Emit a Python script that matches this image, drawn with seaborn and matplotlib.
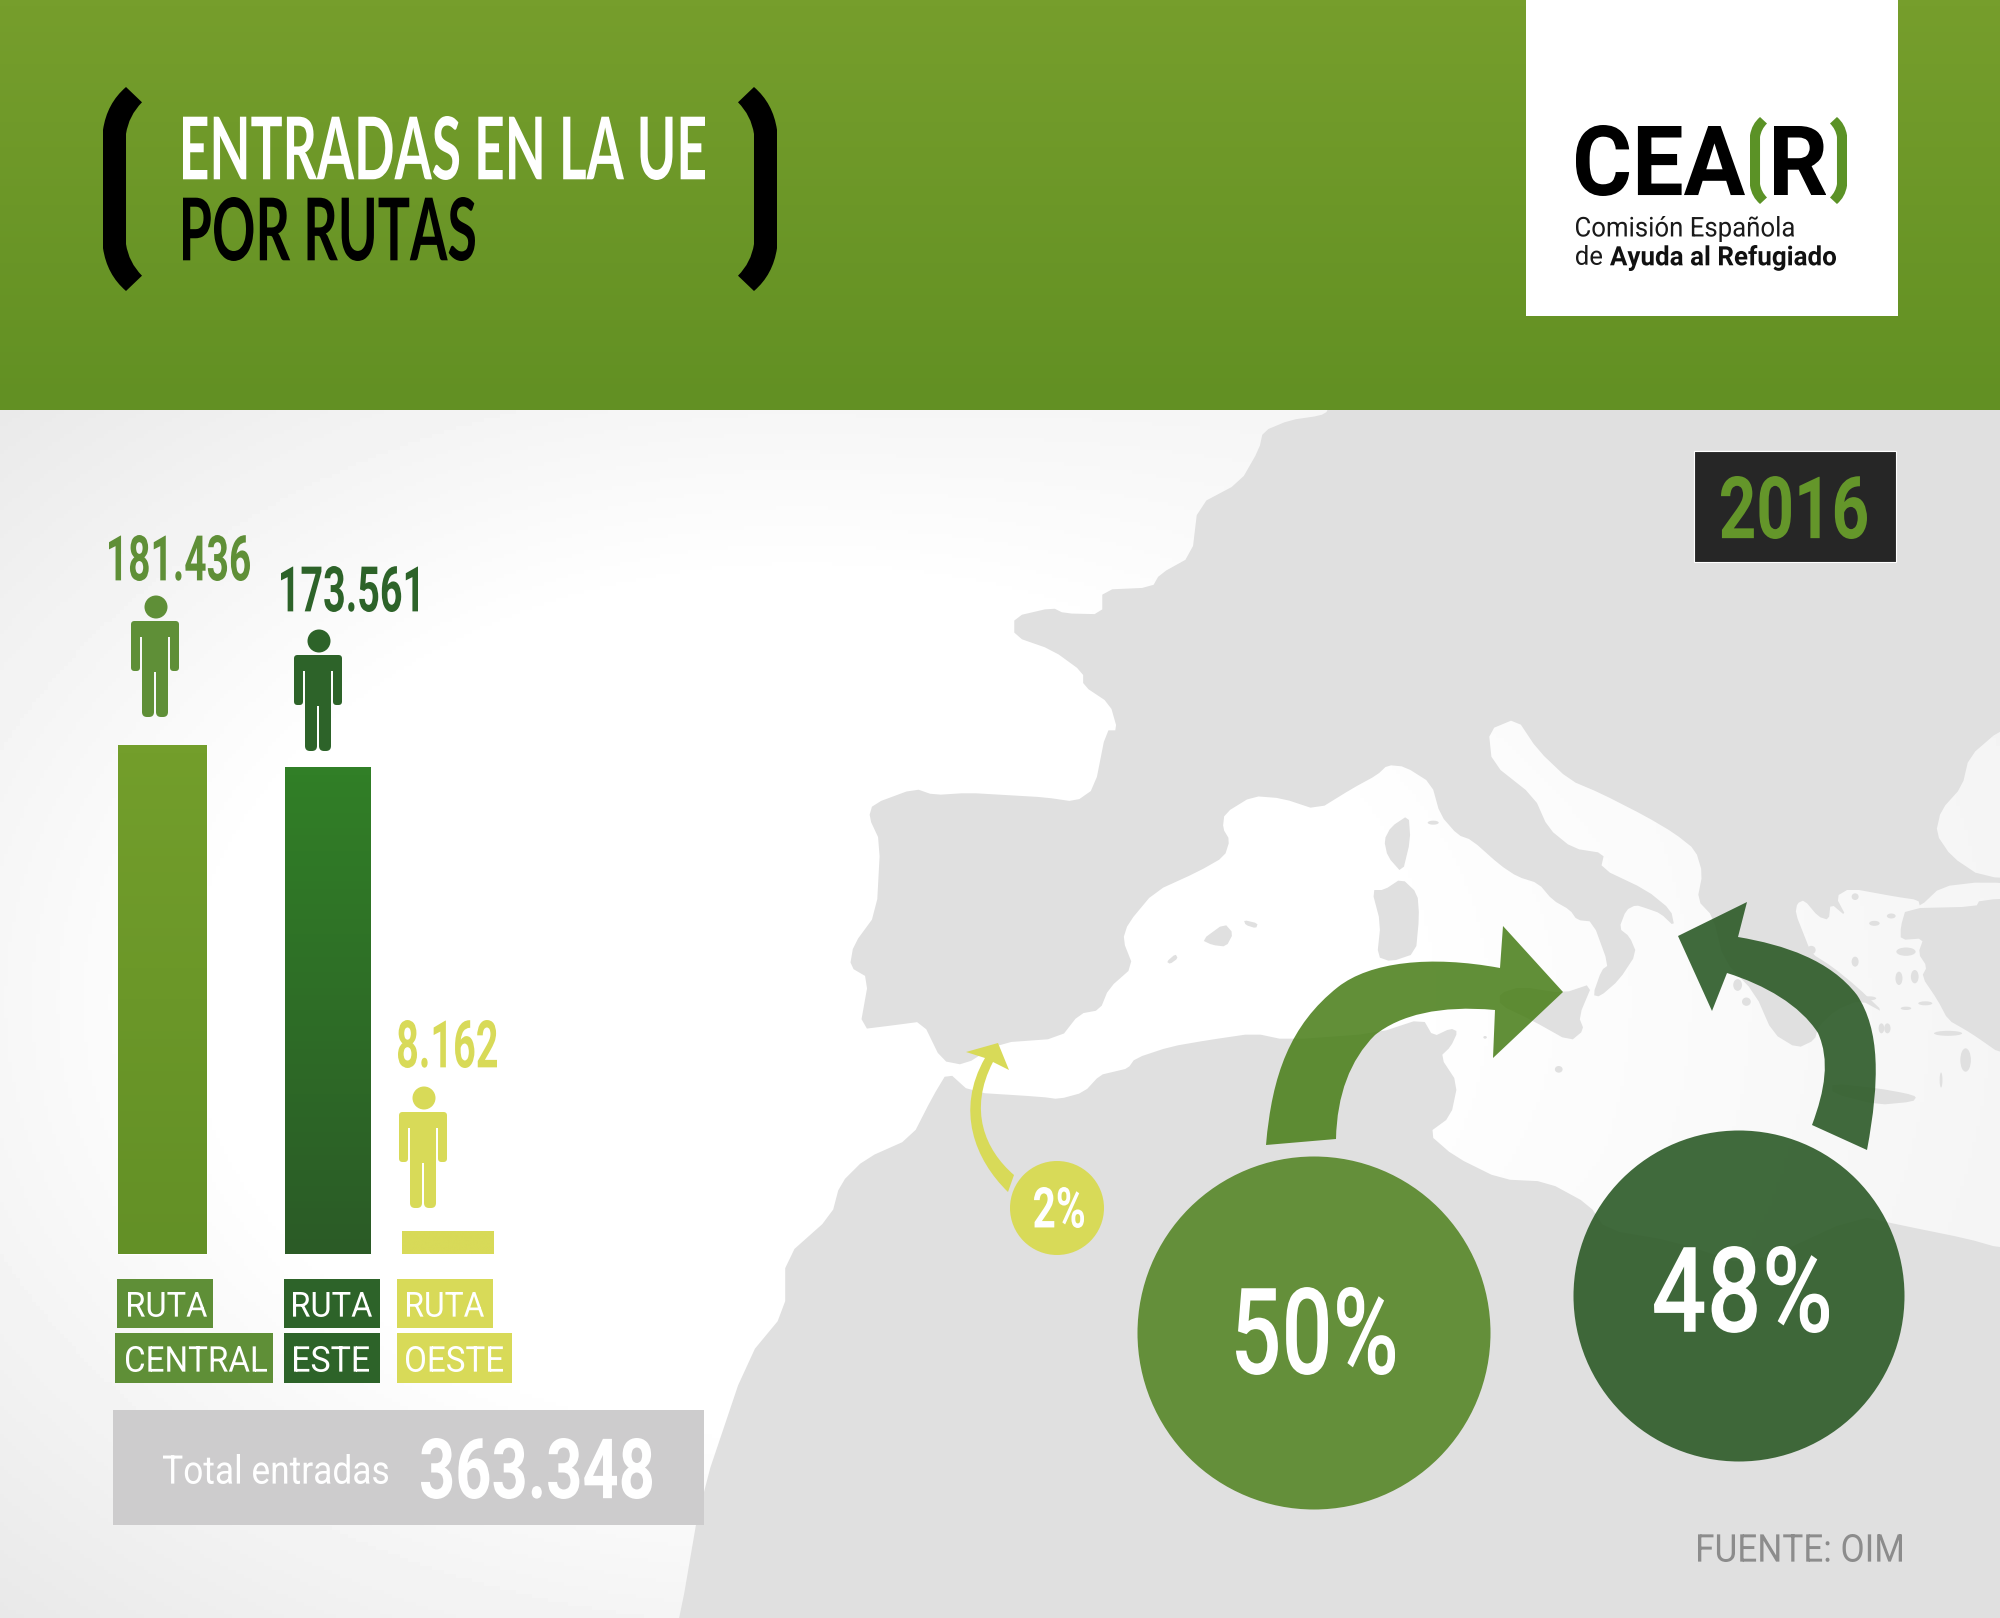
import numpy as np
import pandas as pd
import matplotlib
matplotlib.use("Agg")
import matplotlib.pyplot as plt
import matplotlib.text as mtext
from matplotlib.font_manager import FontProperties
from matplotlib.patches import Circle, Ellipse, FancyBboxPatch, PathPatch, Polygon, Rectangle
from matplotlib.path import Path
from matplotlib.textpath import TextPath
from matplotlib.transforms import Affine2D, Bbox, IdentityTransform
import seaborn as sns

# ---------- data ----------
routes = ["Ruta Central", "Ruta Este", "Ruta Oeste"]
entries = [181436, 173561, 8162]
shares = [50, 48, 2]
total_entries = 363348
year = "2016"
source = "FUENTE: OIM"

# ---------- style ----------
C_CENTRAL, C_ESTE, C_OESTE = "#5f8f37", "#2d6329", "#d8da58"
C_LAND = "#e0e0e0"
BAR_CENTERS = [162.5, 328, 448]
BAR_WIDTHS = [89, 86, 92]
BAR_BASE_PX, PX_PER_UNIT = 1254, 509 / 181436

sns.set_theme(style="white")
fig = plt.figure(figsize=(20, 16.18), dpi=100, facecolor="white")
ax = fig.add_axes([0, 0, 1, 1], zorder=1)
ax.set_axis_off()


class FittedText(mtext.Text):
    """Real text whose letterforms are fitted to a condensed ink box."""

    def __init__(self, box, s, color, fp):
        super().__init__(box[0], box[3], s, color=color, fontproperties=fp)
        self.box = box
        self.fp = fp

    def _corners(self):
        x0, y0, x1, y1 = self.box
        return self.axes.transData.transform([(x0, y1), (x1, y0)])

    def get_window_extent(self, renderer=None, dpi=None):
        (a, b), (c, d) = self._corners()
        return Bbox.from_extents(a, b, c, d)

    def draw(self, renderer):
        if not self.get_visible():
            return
        tp = TextPath((0, 0), self.get_text(), size=100, prop=self.fp)
        bb = tp.get_extents()
        (a, b), (c, d) = self._corners()
        aff = Affine2D().translate(-bb.x0, -bb.y0).scale((c - a) / bb.width, (d - b) / bb.height).translate(a, b)
        p = PathPatch(tp, transform=aff + IdentityTransform(), fc=self.get_color(), ec="none", lw=0)
        p.set_figure(self.get_figure())
        p.draw(renderer)


def label(box, s, color, family="Roboto", weight="medium"):
    t = FittedText(box, s, color, FontProperties(family=family, weight=weight))
    t.set_zorder(12)
    ax.add_artist(t)
    return t


def gradient(top, bottom, n=64):
    a, b = np.array(matplotlib.colors.to_rgb(top)), np.array(matplotlib.colors.to_rgb(bottom))
    return (a + (b - a) * np.linspace(0, 1, n)[:, None])[:, None, :]


def smooth(points, rounds=2):
    pts = np.array(points, float)
    for _ in range(rounds):
        nxt = np.roll(pts, -1, axis=0)
        pts = np.column_stack([0.8 * pts + 0.2 * nxt, 0.2 * pts + 0.8 * nxt]).reshape(-1, 2)
    return pts


def z5(p):
    return [(800 + x / 1.3067, 400 + y / 2.24) for x, y in p]


def z6(p):
    return [(680 + x / 1.188, 900 + y / 2.184) for x, y in p]


def za(p):
    return [(1450 + x / 2.851, 700 + y / 3) for x, y in p]


def zb(p):
    return [(1100 + x / 2.851, 700 + y / 3) for x, y in p]


# ---------- background ----------
yy, xx = np.mgrid[410:1618:4, 0:2000:4]
dist = np.hypot((xx - 800) / 1.4, yy - 1000)
amplitude = 30 - 17 * np.clip((xx - 900) / 700, 0, 1)
shade = 255 - amplitude * np.clip((dist - 420) / 560, 0, 1)
ax.imshow(shade / 255, cmap="gray", vmin=0, vmax=1, extent=(0, 2000, 1618, 410), aspect="auto", zorder=0)

# ---------- map ----------
europe = (
    z5([(705, -60), (690, 25), (680, 35), (640, 45), (605, 70), (600, 110), (575, 185), (520, 235), (512, 350),
        (470, 390), (460, 420), (395, 425), (395, 480), (345, 478), (330, 465), (280, 485), (280, 530), (330, 560),
        (370, 610), (370, 640), (405, 680), (415, 740), (400, 740), (385, 870), (360, 900), (320, 890), (270, 885),
        (220, 880), (175, 885), (150, 870), (95, 905), (90, 935), (105, 990), (100, 1150), (70, 1220), (65, 1270),
        (90, 1295), (78, 1410), (125, 1400), (160, 1392), (185, 1480), (215, 1490), (260, 1440), (340, 1430),
        (365, 1375)])
    + zb([(0, 930), (25, 865), (95, 800), (65, 720), (80, 670), (155, 575), (280, 515), (355, 470), (370, 420),
          (350, 385), (355, 340), (435, 288), (520, 295), (620, 330), (720, 265), (790, 225), (820, 195), (870, 200),
          (945, 250), (970, 345), (1020, 405), (1060, 420), (1140, 495), (1190, 530), (1250, 550), (1290, 600),
          (1340, 630), (1360, 660), (1405, 665), (1450, 795), (1430, 810), (1405, 885), (1425, 890), (1480, 840),
          (1530, 760), (1510, 710), (1480, 685), (1500, 630)])
    + za([(530, 615), (560, 625), (600, 640), (640, 680), (630, 630), (560, 570), (430, 505), (440, 460), (350, 445),
          (280, 385), (240, 290), (120, 190), (110, 90), (190, 55), (250, 150), (340, 240), (430, 280), (560, 350),
          (640, 400), (700, 450), (720, 520), (705, 600), (750, 650), (780, 780), (870, 880), (920, 1000), (990, 1045),
          (1040, 1020), (1050, 980), (1100, 930), (1170, 900), (1240, 940), (1160, 860), (1090, 800), (1030, 760),
          (1015, 720), (985, 640), (990, 610), (1010, 600), (1050, 650), (1080, 660), (1085, 610), (1130, 650),
          (1100, 590), (1140, 565), (1270, 590), (1335, 600), (1340, 620), (1400, 560), (1520, 545), (1700, 560),
          (1700, 540), (1515, 530), (1430, 470), (1385, 400), (1400, 330), (1460, 260), (1480, 170), (1568, 90),
          (1700, 40), (1700, -1500)])
)
anatolia = za([(1700, 590), (1510, 600), (1500, 620), (1300, 625), (1285, 680), (1285, 720), (1350, 715), (1335, 760),
               (1360, 800), (1345, 830), (1390, 900), (1420, 960), (1470, 990), (1500, 1010), (1568, 1060),
               (1700, 1080)])
corsica = zb([(880, 345), (885, 420), (862, 520), (820, 470), (810, 420), (830, 380)])
sardinia = zb([(860, 535), (905, 580), (910, 650), (900, 760), (830, 785), (790, 770), (800, 670), (775, 570),
               (810, 570)])
sicily = zb([(1140, 880), (1200, 860), (1320, 880), (1405, 850), (1365, 950), (1380, 990), (1340, 1025), (1230, 960),
             (1140, 915)])
mallorca = zb([(290, 720), (355, 670), (380, 700), (360, 740), (320, 735)])
menorca = zb([(410, 660), (450, 670), (445, 685), (415, 675)])
ibiza = zb([(190, 785), (215, 762), (222, 775), (200, 792)])
crete = za([(1090, 1150), (1220, 1165), (1300, 1180), (1330, 1190), (1320, 1205), (1220, 1215), (1090, 1180)])
africa = (
    z6([(-20, 1700), (0, 1568), (25, 1300), (80, 1000), (125, 900), (125, 780), (180, 690), (190, 620), (220, 565),
        (275, 520), (300, 430), (318, 375), (345, 420), (430, 430), (450, 435), (480, 420)])
    + zb([(0, 1125), (40, 1115), (80, 1105), (100, 1075), (200, 1040), (310, 1020), (440, 1000), (530, 1020),
          (790, 1000), (920, 955), (950, 1010), (1000, 985), (1020, 995), (1000, 1040), (970, 1070), (1020, 1150),
          (1000, 1250), (935, 1300)])
    + z6([(920, 560), (975, 610), (1030, 615), (1080, 665), (1100, 720), (1180, 745), (1270, 800), (1400, 690),
          (1450, 710), (1530, 740), (1568, 760), (1700, 780), (1700, 1700)])
)
for shape in [europe, anatolia, corsica, sardinia, sicily, mallorca, menorca, ibiza, crete, africa]:
    ax.add_patch(Polygon(smooth(shape, 1), closed=True, fc=C_LAND, ec="none", zorder=1))
# islets: zoom-space centre and size
islets = [(1300, 755, 55, 25), (1280, 835, 20, 40), (1325, 830, 22, 40), (1195, 895, 40, 12), (1300, 925, 30, 10),
          (1355, 910, 40, 12), (1230, 985, 16, 30), (1247, 985, 18, 30), (1420, 1000, 80, 15), (1470, 1080, 30, 70),
          (1400, 1140, 8, 45), (1155, 590, 20, 20), (1210, 670, 30, 15), (1258, 648, 25, 15), (1155, 785, 20, 30),
          (1030, 750, 25, 25), (820, 855, 25, 35), (845, 905, 25, 25), (310, 1108, 22, 20), (100, 1012, 10, 8)]
for px, py, pw, ph in islets:
    (cx, cy), = za([(px, py)])
    ax.add_patch(Ellipse((cx, cy), pw / 2.851, ph / 3, fc=C_LAND, ec="none", zorder=1))
(cx, cy), = zb([(950, 368)])
ax.add_patch(Ellipse((cx, cy), 11, 4, fc=C_LAND, ec="none", zorder=1))

# ---------- header ----------
ax.imshow(gradient("#769e2c", "#629023"), extent=(0, 2000, 410, 0), aspect="auto", zorder=2)
ax.add_patch(Rectangle((1526, 0), 372, 315.5, fc="white", ec="none", zorder=3))


def bracket(x0, x1, y0, y1, color, mirror=False):
    u = [.59, .10, 0, 0, .10, .59, 1, .66, .59, .59, .66, 1, .59]
    v = [0, .08, .21, .79, .92, 1, .925, .86, .77, .23, .14, .075, 0]
    if mirror:
        u = [1 - i for i in u]
    pts = [(x0 + (x1 - x0) * a, y0 + (y1 - y0) * b) for a, b in zip(u, v)]
    codes = [Path.MOVETO, Path.CURVE3, Path.CURVE3, Path.LINETO, Path.CURVE3, Path.CURVE3, Path.LINETO,
             Path.CURVE3, Path.CURVE3, Path.LINETO, Path.CURVE3, Path.CURVE3, Path.CLOSEPOLY]
    ax.add_patch(PathPatch(Path(pts, codes), fc=color, ec="none", zorder=5))


bracket(103, 142, 87, 291, "black")
bracket(738, 777, 87, 291, "black", mirror=True)
label((183, 116, 705, 180), "ENTRADAS EN LA UE", "white", "Lato", "bold")
label((183, 197, 475, 261), "POR RUTAS", "black", "Lato", "bold")

label((1576, 125, 1745, 196), "CEA", "black", "Roboto", "bold")
bracket(1750, 1767, 117, 204, "#5b9226")
label((1774, 126, 1826, 195), "R", "black", "Roboto", "bold")
bracket(1830, 1847, 117, 204, "#5b9226", mirror=True)
label((1576, 216, 1794, 242), "Comisión Española", "#1a1a1a", "Roboto", "normal")
label((1576, 245, 1602, 265), "de", "#1a1a1a", "Roboto", "normal")
label((1610, 245, 1836, 271), "Ayuda al Refugiado", "#111111", "Roboto", "bold")

ax.add_patch(Rectangle((1694, 451), 202, 111, fc="#262626", ec="white", lw=0.8, zorder=6))
label((1721, 476, 1867, 539), year, "#64962a", "Roboto", "bold")


# ---------- people ----------
def person(cx, cy, color):
    cx -= 1
    kw = dict(fc=color, ec="none", zorder=8)
    ax.add_patch(Circle((cx + 1, cy), 11.5, **kw))
    rounded = "round,pad=0,rounding_size=3.5"
    ax.add_patch(FancyBboxPatch((cx - 24, cy + 14), 48, 16, boxstyle=rounded, **kw))
    ax.add_patch(Rectangle((cx - 13, cy + 20), 26, 45, **kw))
    ax.add_patch(FancyBboxPatch((cx - 24, cy + 16), 9, 48, boxstyle=rounded, **kw))
    ax.add_patch(FancyBboxPatch((cx + 15, cy + 16), 9, 48, boxstyle=rounded, **kw))
    ax.add_patch(FancyBboxPatch((cx - 13, cy + 58), 12, 52, boxstyle="round,pad=0,rounding_size=5", **kw))
    ax.add_patch(FancyBboxPatch((cx + 1, cy + 58), 12, 52, boxstyle="round,pad=0,rounding_size=5", **kw))


person(156, 607, C_CENTRAL)
person(319, 641, C_ESTE)
person(424, 1098, C_OESTE)


def thousands(v):
    return f"{v:,}".replace(",", ".")


label((109, 535, 250, 581), thousands(entries[0]), C_CENTRAL, "Roboto", "bold")
label((281, 566, 418, 612), thousands(entries[1]), C_ESTE, "Roboto", "bold")
label((398, 1020, 497, 1068), thousands(entries[2]), C_OESTE, "Roboto", "bold")

# ---------- route tags ----------
tag_font = dict(family="Roboto", weight="normal")
tags = [
    ((117, 1279, 213, 1328), (128, 1292, 207, 1317), "RUTA", C_CENTRAL),
    ((115, 1333, 273, 1383), (126, 1346, 267, 1372), "CENTRAL", C_CENTRAL),
    ((284, 1279, 380, 1328), (293, 1292, 372, 1317), "RUTA", C_ESTE),
    ((284, 1333, 380, 1383), (294, 1346, 369, 1372), "ESTE", C_ESTE),
    ((397, 1279, 493, 1328), (407, 1292, 484, 1317), "RUTA", C_OESTE),
    ((397, 1333, 512, 1383), (406, 1346, 503, 1372), "OESTE", C_OESTE),
]
for (x0, y0, x1, y1), tbox, s, c in tags:
    ax.add_patch(Rectangle((x0, y0), x1 - x0, y1 - y0, fc=c, ec="none", zorder=6))
    label(tbox, s, "white", **tag_font)

# ---------- total ----------
ax.add_patch(Rectangle((113, 1410), 591, 115, fc="#cdcccd", ec="none", zorder=6))
label((163, 1454, 388, 1484), "Total entradas", "white", "Roboto", "normal")
label((421, 1438, 652, 1499), thousands(total_entries), "white", "Roboto", "bold")


# ---------- arrows ----------
def curved(verts_codes, color, alpha=1.0):
    verts, codes = zip(*verts_codes)
    ax.add_patch(PathPatch(Path(verts, codes), fc=color, ec="none", alpha=alpha, zorder=7))


M, L, C, Z = Path.MOVETO, Path.LINETO, Path.CURVE4, Path.CLOSEPOLY
curved([((1266, 1145), M), ((1272, 1075), C), ((1290, 1025), C), ((1338, 987), C), ((1370, 962), C), ((1430, 955), C),
        ((1500, 968), C), ((1503, 926), L), ((1563, 992), L), ((1493, 1058), L), ((1495, 1010), L), ((1440, 1005), C),
        ((1400, 1015), C), ((1375, 1035), C), ((1350, 1060), C), ((1337, 1095), C), ((1336, 1139), C),
        ((1266, 1145), Z)], "#467c15", 0.85)
curved([((1867, 1150), M), ((1880, 1080), C), ((1880, 1030), C), ((1857, 995), C), ((1830, 960), C), ((1785, 945), C),
        ((1738, 937), C), ((1747, 902), L), ((1678, 936), L), ((1712, 1011), L), ((1727, 973), L), ((1765, 985), C),
        ((1800, 1005), C), ((1818, 1033), C), ((1830, 1060), C), ((1825, 1090), C), ((1812, 1125), C),
        ((1867, 1150), Z)], "#2c5a27", 0.9)
curved([((1008, 1192), M), ((975, 1160), C), ((955, 1110), C), ((985, 1058), C), ((966, 1052), L), ((998, 1043), L),
        ((1009, 1070), L), ((993, 1062), L), ((968, 1110), C), ((985, 1150), C), ((1014, 1175), C),
        ((1008, 1192), Z)], C_OESTE)

# ---------- circles ----------
ax.add_patch(Circle((1057, 1208), 47, fc=C_OESTE, ec="none", zorder=8))
ax.add_patch(Circle((1314, 1333), 176.5, fc="#648f3a", ec="none", zorder=8))
ax.add_patch(Circle((1739, 1296), 165.5, fc="#2c5a27", ec="none", alpha=0.9, zorder=8))
label((1236, 1287, 1395, 1375), f"{shares[0]}%", "white", "Roboto", "medium")
label((1654, 1246, 1829, 1333), f"{shares[1]}%", "white", "Roboto", "medium")
label((1034, 1187, 1084, 1228), f"{shares[2]}%", "white", "Roboto", "bold")
label((1698, 1534, 1902, 1562), source, "#8c8c8c", "Roboto", "normal")

ax.set_xlim(0, 2000)
ax.set_ylim(1618, 0)

# ---------- bars, on the value scale ----------
ax_bar = fig.add_axes([0, 0, 1, 1], zorder=2)
ax_bar.patch.set_alpha(0)
df = pd.DataFrame({"route": routes, "entries": entries, "pos": BAR_CENTERS, "width": BAR_WIDTHS})
fills = [("#739e2b", "#639026"), ("#317f27", "#2b5b26"), (C_OESTE, C_OESTE)]
for i, row in df.iterrows():
    sns.barplot(data=df.iloc[[i]], x="pos", y="entries", native_scale=True, width=row["width"],
                color=fills[i][0], saturation=1, ax=ax_bar, errorbar=None)
    patch = ax_bar.patches[-1]
    img = ax_bar.imshow(gradient(*fills[i]), aspect="auto", zorder=3,
                        extent=(patch.get_x(), patch.get_x() + patch.get_width(), 0, patch.get_height()))
    img.set_clip_path(patch)
ax_bar.set_xlim(0, 2000)
ax_bar.set_ylim((BAR_BASE_PX - 1618) / PX_PER_UNIT, BAR_BASE_PX / PX_PER_UNIT)
ax_bar.set_axis_off()

fig.savefig("out.png", dpi=100)
